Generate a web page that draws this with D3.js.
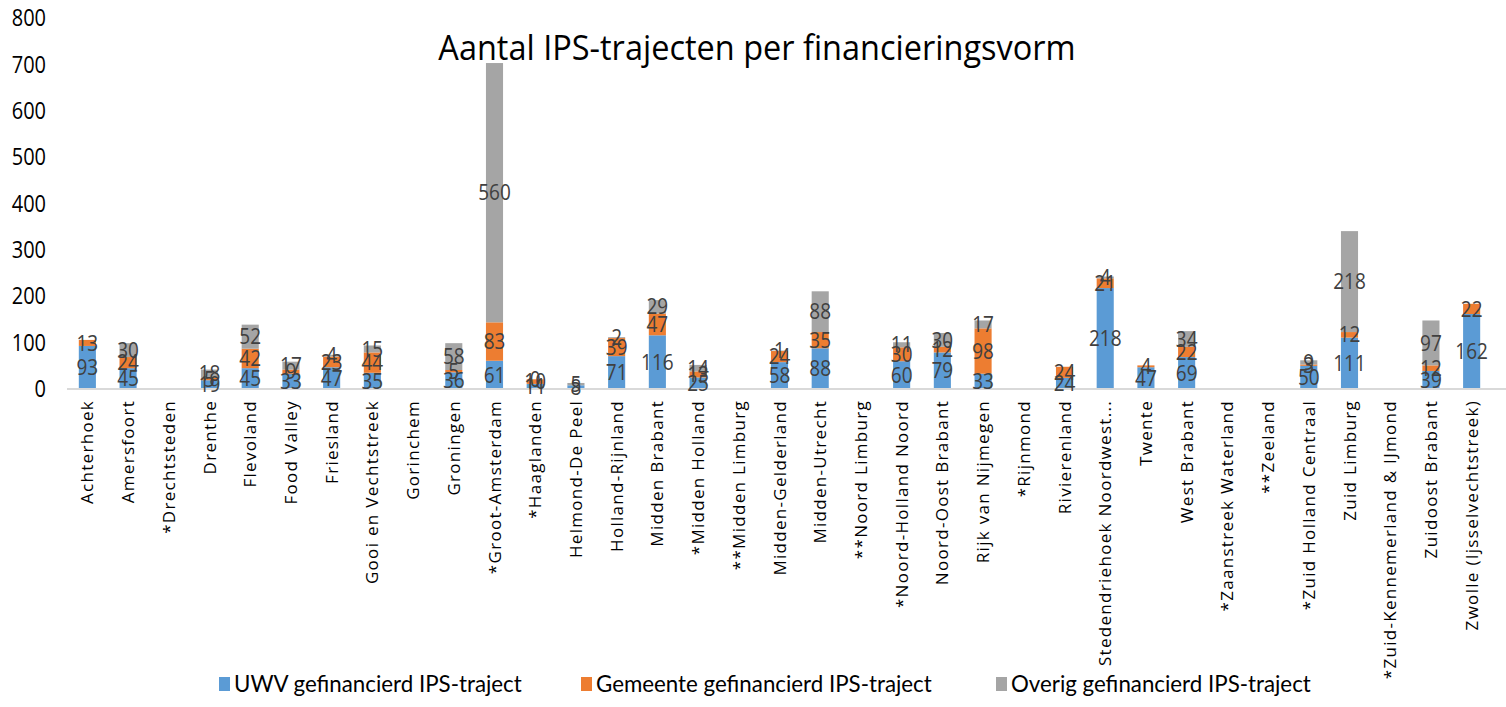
<!DOCTYPE html>
<html>
<head>
<meta charset="utf-8">
<script src="https://cdn.jsdelivr.net/npm/d3@7"></script>
<style>
  body { margin: 0; background: #fff; }
  text { font-family: "Open Sans", sans-serif; }
</style>
</head>
<body>
<div id="chartContainer"></div>
<script>
const categories = [
  "Achterhoek", "Amersfoort", "*Drechtsteden", "Drenthe", "Flevoland", "Food Valley", "Friesland",
  "Gooi en Vechtstreek", "Gorinchem", "Groningen", "*Groot-Amsterdam", "*Haaglanden", "Helmond-De Peel",
  "Holland-Rijnland", "Midden Brabant", "*Midden Holland", "**Midden Limburg", "Midden-Gelderland",
  "Midden-Utrecht", "**Noord Limburg", "*Noord-Holland Noord", "Noord-Oost Brabant", "Rijk van Nijmegen",
  "*Rijnmond", "Rivierenland", "Stedendriehoek Noordwest...", "Twente", "West Brabant",
  "*Zaanstreek Waterland", "**Zeeland", "*Zuid Holland Centraal", "Zuid Limburg",
  "*Zuid-Kennemerland & IJmond", "Zuidoost Brabant", "Zwolle (Ijsselvechtstreek)"
];
const uwv = [93, 45, null, 19, 45, 33, 47, 35, null, 36, 61, 11, 8, 71, 116, 25, null, 58, 88, null, 60, 79, 33, null, 24, 218, 47, 69, null, null, 50, 111, null, 39, 162];
const gemeente = [13, 24, null, 5, 42, 9, 23, 44, null, 5, 83, 10, null, 39, 47, 13, null, 24, 35, null, 30, 12, 98, null, 24, 21, 4, 22, null, null, 3, 12, null, 12, 22];
const overig = [null, 30, null, 18, 52, 17, 4, 15, null, 58, 560, 0, 5, 2, 29, 14, null, 1, 88, null, 11, 30, 17, null, null, 4, null, 34, null, null, 9, 218, null, 97, null];

const seriesNames = ["UWV gefinancierd IPS-traject", "Gemeente gefinancierd IPS-traject", "Overig gefinancierd IPS-traject"];
const seriesKeys = ["uwv", "gemeente", "overig"];
const colors = ["#5b9bd5", "#ed7d31", "#a5a5a5"];
const yTicks = [0, 100, 200, 300, 400, 500, 600, 700, 800];

const width = 1506, height = 707;

const rows = categories.map((c, i) => ({ cat: c, uwv: uwv[i], gemeente: gemeente[i], overig: overig[i] }));

const x = d3.scaleBand().domain(categories).range([67, 1492]).paddingInner(0.58).paddingOuter(0.29);
const y = d3.scaleLinear().domain([0, 800]).range([389, 18.6]);
const color = d3.scaleOrdinal().domain(seriesKeys).range(colors);

const stack = d3.stack().keys(seriesKeys).value((d, k) => d[k] || 0);
const stacked = stack(rows);

const svg = d3.select("#chartContainer").append("svg").attr("width", width).attr("height", height);

// title
svg.append("text")
  .attr("transform", "translate(757,60) scale(1,1.08)")
  .attr("text-anchor", "middle")
  .style("font-size", "32.5px")
  .style("fill", "#000")
  .text("Aantal IPS-trajecten per financieringsvorm");

// y axis labels
const yAxis = svg.append("g")
  .attr("transform", "translate(46,0)")
  .call(d3.axisLeft(y).tickValues(yTicks).tickSize(0).tickPadding(0));
yAxis.select(".domain").remove();
yAxis.selectAll("text")
  .style("font-family", "'Open Sans', sans-serif")
  .style("font-size", "20px")
  .style("fill", "#000")
  .attr("transform", "scale(1,1.15)");

// bars
const groups = svg.selectAll(".series")
  .data(stacked)
  .enter()
  .append("g")
  .attr("class", "series")
  .style("fill", (d) => color(d.key));

groups.selectAll("rect")
  .data((d) => d)
  .enter()
  .append("rect")
  .attr("x", (d) => x(d.data.cat))
  .attr("width", x.bandwidth())
  .attr("y", (d) => y(d[1]))
  .attr("height", (d) => y(d[0]) - y(d[1]));

// baseline
svg.append("line")
  .attr("x1", 67).attr("x2", 1506)
  .attr("y1", y(0)).attr("y2", y(0))
  .style("stroke", "#d9d9d9")
  .style("stroke-width", 2);

// data labels, centred in each segment
stacked.forEach((s) => {
  svg.append("g")
    .selectAll("text")
    .data(s.filter((d) => d.data[s.key] !== null))
    .enter()
    .append("text")
    .attr("transform", (d) => "translate(" + (x(d.data.cat) + x.bandwidth() / 2) + "," + (y(d[0]) + y(d[1])) / 2 + ") scale(1,1.12)")
    .attr("dy", "0.36em")
    .attr("text-anchor", "middle")
    .style("font-size", "19px")
    .style("fill", "#404040")
    .text((d) => d.data[s.key]);
});

// category labels
svg.append("g")
  .selectAll("text")
  .data(categories)
  .enter()
  .append("text")
  .attr("transform", (d) => "translate(" + (x(d) + x.bandwidth() / 2) + ",400) rotate(-90)")
  .attr("dy", "0.36em")
  .attr("text-anchor", "end")
  .style("font-size", "17px")
  .style("letter-spacing", "1.3px")
  .style("fill", "#000")
  .text((d) => d);

// legend
const legendX = [219, 581, 996];
const legend = svg.append("g");
legend.selectAll("rect")
  .data(seriesNames)
  .enter()
  .append("rect")
  .attr("x", (d, i) => legendX[i])
  .attr("y", 677)
  .attr("width", 11)
  .attr("height", 14)
  .style("fill", (d, i) => colors[i]);
legend.selectAll("text")
  .data(seriesNames)
  .enter()
  .append("text")
  .attr("x", (d, i) => legendX[i] + 15)
  .attr("y", 684)
  .attr("dy", "0.36em")
  .style("font-family", "Lato, sans-serif")
  .style("font-size", "22.3px")
  .style("fill", "#000")
  .text((d) => d);
</script>
</body>
</html>
